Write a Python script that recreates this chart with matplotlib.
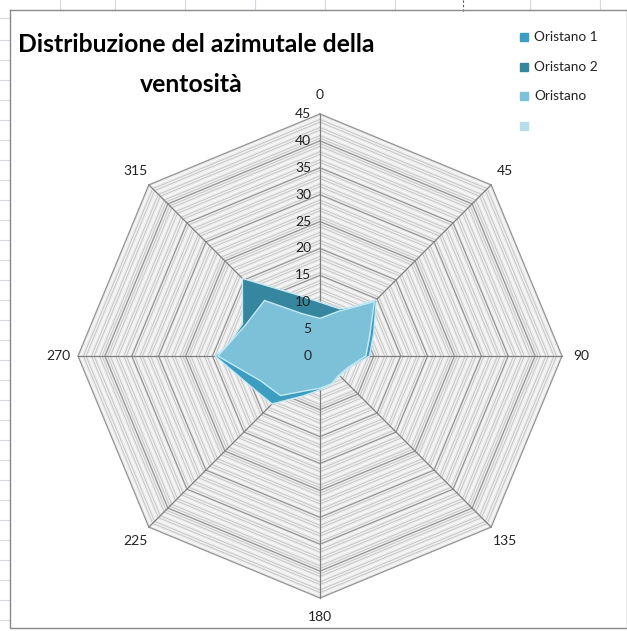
import numpy as np
import matplotlib.pyplot as plt
from matplotlib.patches import Polygon

# wind direction sectors (degrees, clockwise from north)
directions = np.arange(0, 360, 22.5)
oristano_1 = [8, 9, 14.8, 10.8, 9.2, 5.8, 5.2, 5.6, 6.3, 8, 12.6, 14.2, 19.5, 14, 14, 9]
oristano_2 = [10, 9.5, 13.5, 10, 8.5, 4.8, 4.5, 5, 5.5, 6.5, 10, 11.5, 18.5, 15.6, 20.4, 12.5]
oristano = [7, 9, 14.3, 10, 8.5, 5.6, 5, 5.6, 6, 7, 10.4, 12, 19, 15, 14.6, 8.5]
series_names = ['Oristano 1', 'Oristano 2', 'Oristano', '']
series_colors = ['#3c9dc0', '#35869e', '#7cc1d8', '#b6dde8']
axis_angles = [0, 45, 90, 135, 180, 225, 270, 315]
axis_labels = ['0', '45', '90', '135', '180', '225', '270', '315']
radial_ticks = list(range(0, 50, 5))
r_max = 45

W, H = 627, 631
cx, cy = 320, 356          # centre of the radar in pixels
scale = 242 / r_max        # pixels per unit

fig = plt.figure(figsize=(W / 100, H / 100), dpi=100)

# spreadsheet background + chart frame (pixel coordinates)
bg = fig.add_axes([0, 0, 1, 1])
bg.set_xlim(0, W)
bg.set_ylim(H, 0)
bg.axis('off')
for x in [60, 115, 185, 255, 325, 395, 530, 600]:
    bg.plot([x, x], [0, 10], color='#d4d9e3', lw=0.8)
bg.plot([463, 463], [0, 12], color='#555555', lw=0.8, ls=(0, (2, 2)))
for y in [18, 40, 60, 80, 100, 120, 140, 160, 180, 200, 220, 240, 260, 280, 300,
          320, 340, 360, 380, 400, 420, 440, 460, 480, 500, 520, 540, 560, 580, 600, 620]:
    bg.plot([0, 10], [y, y], color='#d4d9e3', lw=0.8)
bg.plot([10, W, W], [10, 10, 628], color='#8a8a8a', lw=1)
bg.plot([10, 10, W], [10, 628, 628], color='#8a8a8a', lw=1)

title_font = dict(family=['Lato', 'DejaVu Sans'], fontweight='bold', fontsize=17.8)
bg.text(196, 45, 'Distribuzione del azimutale della', ha='center', va='center', **title_font)
bg.text(191, 84, 'ventosità', ha='center', va='center', **title_font)

for i, (name, col) in enumerate(zip(series_names, series_colors)):
    y = 37 + i * 29.7
    bg.add_patch(plt.Rectangle((520, y - 4), 8, 8, color=col))
    bg.text(534, y, name, ha='left', va='center', fontsize=9.8,
            family=['Lato', 'DejaVu Sans'], color='#222222')

# radar axes in data units
ax = fig.add_axes([0, 0, 1, 1])
ax.set_xlim(-cx / scale, (W - cx) / scale)
ax.set_ylim(-(H - cy) / scale, cy / scale)
ax.axis('off')
ax.patch.set_alpha(0)

octa = np.radians(axis_angles + [0])


def ring(r):
    return r * np.sin(octa), r * np.cos(octa)


ox, oy = ring(r_max)
ax.fill(ox, oy, color='#ececec', zorder=1)
for k, r in enumerate(np.arange(0.5, r_max, 0.5)):
    if r % 5 == 0:
        continue
    c = '#ffffff' if k % 3 == 1 else '#bdbdbd'
    xs, ys = ring(r)
    ax.plot(xs, ys, color=c, lw=0.5, zorder=2)
for r in radial_ticks[1:]:
    xs, ys = ring(r)
    ax.plot(xs, ys, color='#959595', lw=0.9, zorder=3)
for a in np.radians(axis_angles):
    ax.plot([0, r_max * np.sin(a)], [0, r_max * np.cos(a)], color='#7f7f7f', lw=0.9, zorder=3)

theta = np.radians(directions)
for vals, col in zip([oristano_1, oristano_2, oristano], series_colors):
    v = np.array(vals)
    pts = np.column_stack([v * np.sin(theta), v * np.cos(theta)])
    ax.add_patch(Polygon(pts, closed=True, facecolor=col, edgecolor='#c4e9f4',
                         lw=1, zorder=4))

for t in radial_ticks:
    ax.text(-1.6, t, str(t), ha='right', va='center', fontsize=10,
            family=['Lato', 'DejaVu Sans'], color='#222222', zorder=6)

for a, lab in zip(np.radians(axis_angles), axis_labels):
    ax.text(48.6 * np.sin(a), 48.6 * np.cos(a), lab, ha='center', va='center',
            fontsize=10, family=['Lato', 'DejaVu Sans'], color='#222222')

fig.savefig('out.png', dpi=100)
